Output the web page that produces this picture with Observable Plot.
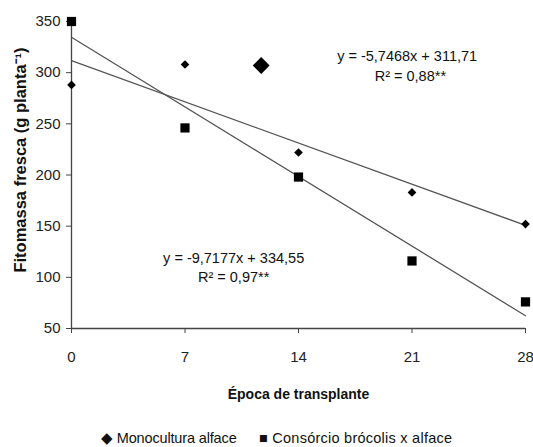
<!DOCTYPE html>
<html>
<head>
<meta charset="utf-8">
<script src="https://cdn.jsdelivr.net/npm/d3@7"></script>
<script src="https://cdn.jsdelivr.net/npm/@observablehq/plot@0.6"></script>
<style>
  body { margin: 0; background: #fff; }
  #chart { width: 533px; height: 405px; }
  .legend { position: relative; width: 533px; height: 42px; font-family: "Liberation Sans", Arial, sans-serif; font-size: 14.5px; color: #111; }
  .legend span { position: absolute; top: 25px; white-space: nowrap; line-height: 16px; }
</style>
</head>
<body>
<div id="chart"></div>
<script>
// Época de transplante (dias)
const epocas = [0, 7, 14, 21, 28];
// Monocultura alface
const monocultura = [288, 308, 222, 183, 152];
// Consórcio brócolis x alface
const consorcio = [350, 246, 198, 116, 76];
// extra (large) diamond marker seen in the figure
const destaqueX = [11.7];
const destaqueY = [307];
// fitted lines, endpoints
const linhaX = [0, 28];
const linhaMono = [311.7, 150.8];
const linhaCons = [334.6, 62.5];
// equations
const eqTexto = ["y = -5,7468x + 311,71", "R² = 0,88**", "y = -9,7177x + 334,55", "R² = 0,97**"];
const eqX = [20.7, 20.9, 10.0, 10.0];
const eqY = [315.5, 296, 119, 100];
const yTicks = [50, 100, 150, 200, 250, 300, 350];
const xTicks = [0, 7, 14, 21, 28];
const legendaNomes = ["Monocultura alface", "Consórcio brócolis x alface"];
const legendaSimbolos = ["◆", "■"];

const font = '"Liberation Sans", Arial, sans-serif';

const mono = epocas.map((x, i) => ({x, y: monocultura[i]}));
const cons = epocas.map((x, i) => ({x, y: consorcio[i]}));
const destaque = destaqueX.map((x, i) => ({x, y: destaqueY[i]}));
const lm = linhaX.map((x, i) => ({x, y: linhaMono[i]}));
const lc = linhaX.map((x, i) => ({x, y: linhaCons[i]}));
const eqs = eqTexto.map((t, i) => ({t, x: eqX[i], y: eqY[i]}));

const plot = Plot.plot({
  width: 533,
  height: 405,
  marginLeft: 71,
  marginRight: 8,
  marginTop: 21,
  marginBottom: 77,
  style: {fontFamily: font, fontSize: "15px", color: "#222", background: "#fff", overflow: "visible"},
  x: {domain: [0, 28]},
  y: {domain: [50, 350]},
  marks: [
    Plot.axisY({ticks: yTicks, tickSize: 5, tickPadding: 6, label: null, fontSize: 15, stroke: "#444"}),
    Plot.axisX({ticks: xTicks, tickSize: 5, tickPadding: 18, label: null, fontSize: 15, stroke: "#444"}),
    Plot.ruleX([0], {y1: 50, y2: 350, stroke: "#444", strokeWidth: 1.3}),
    Plot.ruleY([50], {x1: 0, x2: 28, stroke: "#444", strokeWidth: 1.3}),
    Plot.line(lm, {x: "x", y: "y", stroke: "#555", strokeWidth: 1.3}),
    Plot.line(lc, {x: "x", y: "y", stroke: "#555", strokeWidth: 1.3}),
    Plot.dot(mono, {x: "x", y: "y", symbol: "diamond2", r: 3.9, fill: "#000", stroke: null}),
    Plot.dot(destaque, {x: "x", y: "y", symbol: "diamond2", r: 7.6, fill: "#000", stroke: null}),
    Plot.dot(cons, {x: "x", y: "y", symbol: "square", r: 5.2, fill: "#000", stroke: null}),
    Plot.text(eqs, {x: "x", y: "y", text: "t", fontSize: 14.5, letterSpacing: -0.4, fill: "#111"}),
    Plot.text(["Fitomassa fresca (g planta⁻¹)"], {frameAnchor: "left", textAnchor: "middle", lineAnchor: "middle", rotate: -90, dx: -51, dy: -15, fontSize: 16.5, fontWeight: "bold", fill: "#111"}),
    Plot.text(["Época de transplante"], {frameAnchor: "bottom", textAnchor: "middle", lineAnchor: "middle", dy: 66, fontSize: 14, fontWeight: "bold", fill: "#111"})
  ]
});
document.getElementById("chart").appendChild(plot);

const leg = document.createElement("div");
leg.className = "legend";
const lefts = [101, 259];
const spacing = [-0.15, 0.25];
legendaNomes.forEach((n, i) => {
  const s = document.createElement("span");
  s.style.left = lefts[i] + "px";
  s.style.letterSpacing = spacing[i] + "px";
  s.textContent = legendaSimbolos[i] + " " + n;
  leg.appendChild(s);
});
document.body.appendChild(leg);
</script>
</body>
</html>
